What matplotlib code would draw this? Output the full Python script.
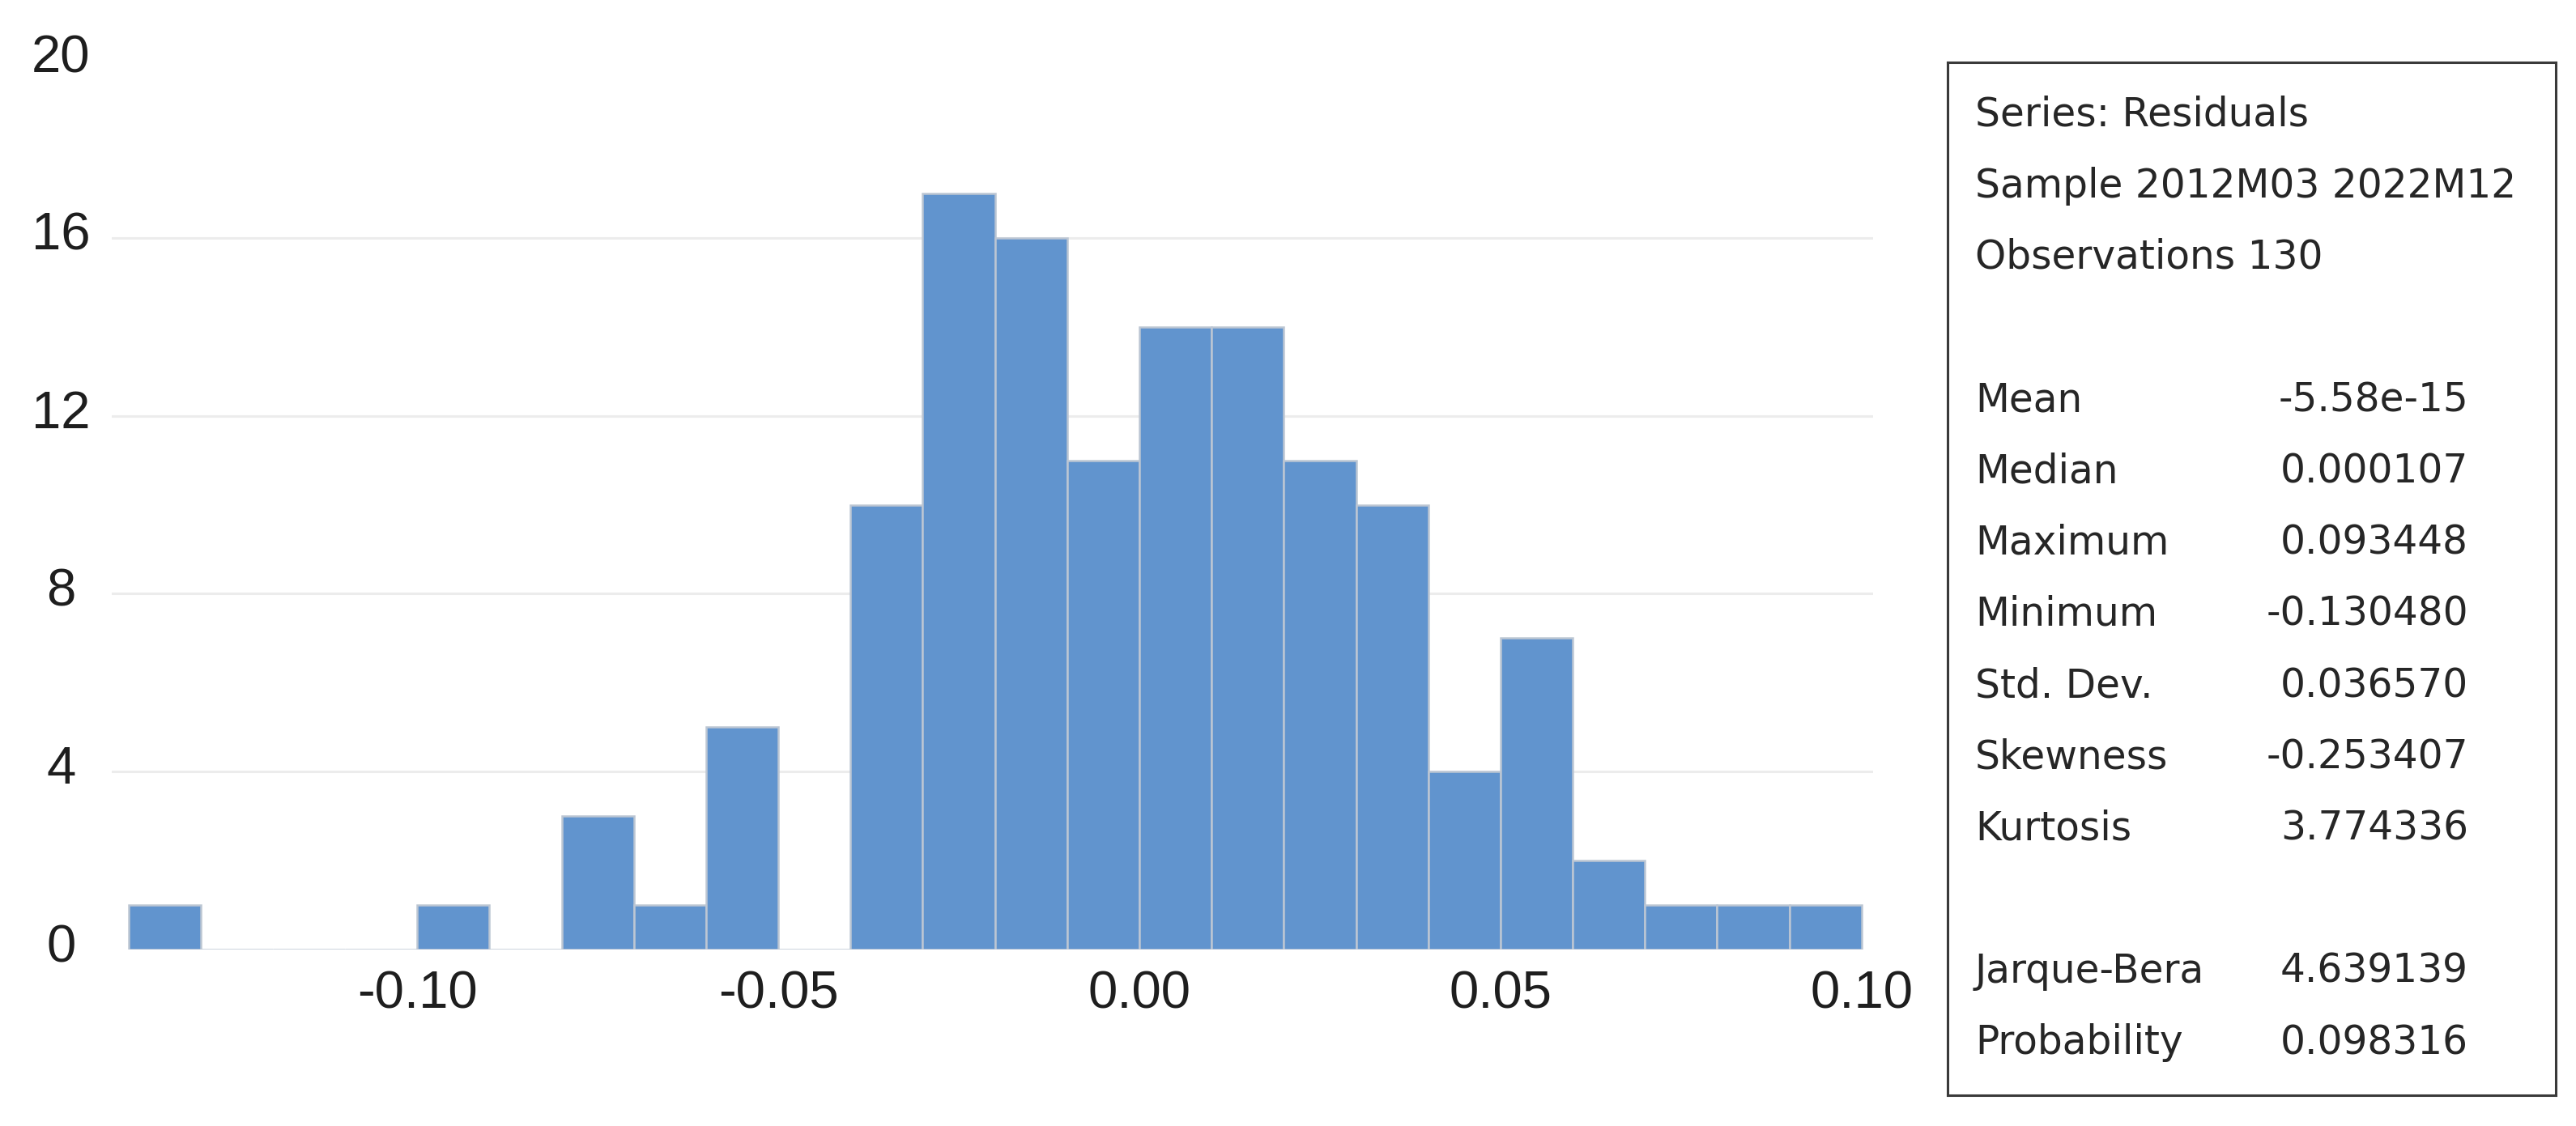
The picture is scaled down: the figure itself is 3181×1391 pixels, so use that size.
import numpy as np
import matplotlib
matplotlib.use("Agg")
import matplotlib.pyplot as plt
from matplotlib.transforms import ScaledTranslation

plt.rcParams['font.family'] = ['Liberation Sans', 'DejaVu Sans']

# histogram of residuals, bins of 0.01
bin_left = np.round(np.arange(-0.14, 0.10, 0.01), 2)
counts = [1, 0, 0, 0, 1, 0, 3, 1, 5, 0, 10, 17, 16, 11, 14, 14, 11, 10, 4, 7, 2, 1, 1, 1]
bin_width = 0.01

x_ticks = [-0.10, -0.05, 0.00, 0.05, 0.10]
x_labels = ['-0.10', '-0.05', '0.00', '0.05', '0.10']
y_ticks = [0, 4, 8, 12, 16, 20]

header = ['Series: Residuals', 'Sample 2012M03 2022M12', 'Observations 130']
stat_names = ['Mean', 'Median', 'Maximum', 'Minimum', 'Std. Dev.', 'Skewness', 'Kurtosis']
stat_values = ['-5.58e-15', '0.000107', '0.093448', '-0.130480', '0.036570', '-0.253407', '3.774336']
test_names = ['Jarque-Bera', 'Probability']
test_values = ['4.639139', '0.098316']

W, H = 3181, 1391
fig = plt.figure(figsize=(W / 100, H / 100), dpi=100)

ax = fig.add_axes([138 / W, 1 - 1173 / H, (2313 - 138) / W, (1173 - 74) / H])
ax.bar(bin_left, counts, width=bin_width, align='edge', color='#6194ce',
       edgecolor='#bcc6d3', linewidth=1.8, zorder=3)
ax.set_xlim(-0.1423, 0.1016)
ax.set_ylim(0, 20)
ax.set_xticks(x_ticks)
ax.set_xticklabels(x_labels)
ax.set_yticks(y_ticks)
for s in ax.spines.values():
    s.set_visible(False)
ax.tick_params(axis='both', length=0, labelsize=47, colors='#1e1e1e')
ax.tick_params(axis='x', pad=18)
ax.tick_params(axis='y', pad=45)
lift = ScaledTranslation(0, 6 / 72, fig.dpi_scale_trans)
for lab in ax.get_yticklabels():
    lab.set_horizontalalignment('center')
    lab.set_transform(lab.get_transform() + lift)
ax.yaxis.grid(True, color='#ececec', linewidth=2.2, zorder=0)
gl = ax.yaxis.get_gridlines()
gl[0].set_visible(False)
gl[-1].set_visible(False)

# statistics box
bx0, bx1, by0, by1 = 2405, 3156, 77, 1353
box = fig.add_axes([bx0 / W, 1 - by1 / H, (bx1 - bx0) / W, (by1 - by0) / H])
box.set_xticks([])
box.set_yticks([])
for s in box.spines.values():
    s.set_color('#3a3a3a')
    s.set_linewidth(2.2)

def row_y(k):
    # baseline of text row k, in box axes fraction
    y_px = 155.5 + 88.2 * k
    return (by1 - y_px) / (by1 - by0)

txt_left = (2439 - bx0) / (bx1 - bx0)
val_right = (3048 - bx0) / (bx1 - bx0)
kw = dict(fontsize=35, va='baseline', color='#262626', family='DejaVu Sans',
          transform=box.transAxes)
for i, t in enumerate(header):
    box.text(txt_left, row_y(i), t, ha='left', **kw)
for i, (n, v) in enumerate(zip(stat_names, stat_values)):
    box.text(txt_left, row_y(4 + i), n, ha='left', **kw)
    box.text(val_right, row_y(4 + i), v, ha='right', **kw)
for i, (n, v) in enumerate(zip(test_names, test_values)):
    box.text(txt_left, row_y(12 + i), n, ha='left', **kw)
    box.text(val_right, row_y(12 + i), v, ha='right', **kw)

fig.savefig('out.png', dpi=100, facecolor='white')
